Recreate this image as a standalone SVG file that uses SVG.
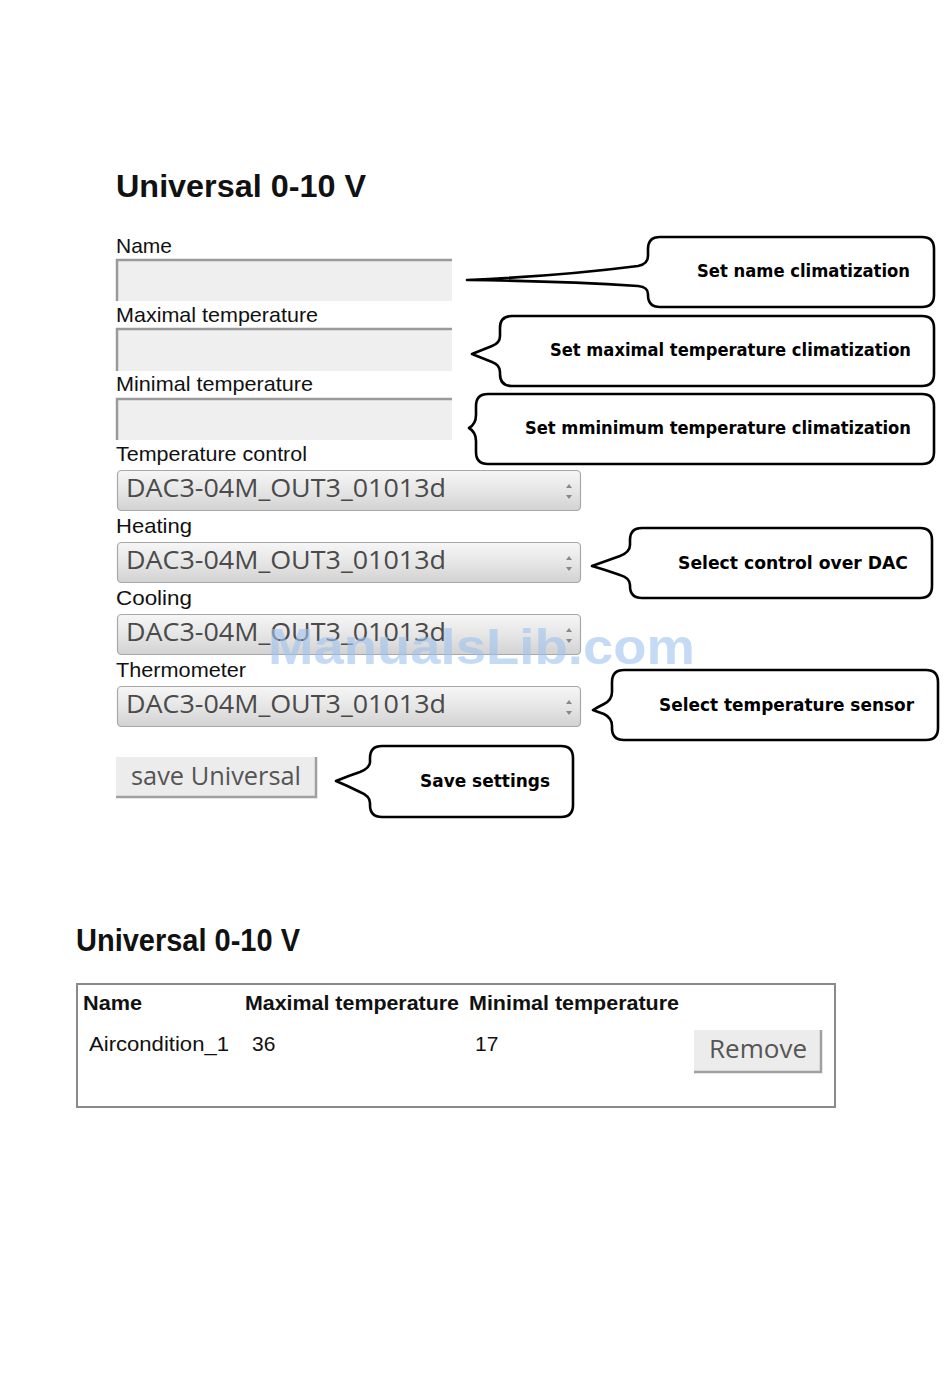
<svg xmlns="http://www.w3.org/2000/svg" width="950" height="1398" viewBox="0 0 950 1398">
<defs>
<linearGradient id="selg" x1="0" y1="0" x2="0" y2="1">
<stop offset="0" stop-color="#f6f6f6"/>
<stop offset="0.5" stop-color="#e6e6e6"/>
<stop offset="1" stop-color="#d2d2d2"/>
</linearGradient>
<style>
.lbl{font-family:"Liberation Sans",Arial,sans-serif;font-size:21px;fill:#111}
.h1{font-family:"Liberation Sans",Arial,sans-serif;font-size:32px;font-weight:bold;fill:#111}
.inp{fill:#efefef}
.inb{stroke:#9a9a9a;stroke-width:2.5;fill:none}
.sel{fill:url(#selg);stroke:#a8a8a8;stroke-width:1.2}
.selt{font-family:"Open Sans","DejaVu Sans",sans-serif;font-size:26px;fill:#4a4a4a}
.spin{fill:#888}
.btn{fill:#ececec}
.btnb{stroke:#a0a0a0;stroke-width:2.5;fill:none}
.btnt{font-family:"Open Sans","DejaVu Sans",sans-serif;font-size:26px;fill:#555}
.co{fill:#fff;stroke:#000;stroke-width:2.6;stroke-linejoin:round}
.cot{font-family:"DejaVu Sans",Verdana,sans-serif;font-size:17px;font-weight:bold;fill:#000;text-anchor:end}
.th{font-family:"Liberation Sans",Arial,sans-serif;font-size:21px;font-weight:bold;fill:#111}
.td{font-family:"Liberation Sans",Arial,sans-serif;font-size:21px;fill:#111}
</style>
</defs>
<rect width="950" height="1398" fill="#fff"/>

<g id="form">
<text class="h1" x="116" y="197" textLength="250" lengthAdjust="spacingAndGlyphs">Universal 0-10 V</text>

<g id="field-name">
<text class="lbl" x="116" y="253">Name</text>
<rect class="inp" x="116" y="259" width="336" height="42"/>
<path class="inb" d="M117 301 V260 H452"/>
</g>
<g id="field-max">
<text class="lbl" x="116" y="322" textLength="202" lengthAdjust="spacingAndGlyphs">Maximal temperature</text>
<rect class="inp" x="116" y="328" width="336" height="43"/>
<path class="inb" d="M117 371 V329 H452"/>
</g>
<g id="field-min">
<text class="lbl" x="116" y="391" textLength="197" lengthAdjust="spacingAndGlyphs">Minimal temperature</text>
<rect class="inp" x="116" y="398" width="336" height="42"/>
<path class="inb" d="M117 440 V399 H452"/>
</g>

<g id="field-tempctrl">
<text class="lbl" x="116" y="461" textLength="191" lengthAdjust="spacingAndGlyphs">Temperature control</text>
<rect class="sel" x="117.5" y="470.5" width="463" height="40" rx="4"/>
<text class="selt" x="126" y="497" textLength="320" lengthAdjust="spacingAndGlyphs">DAC3-04M_OUT3_01013d</text>
<path class="spin" d="M566 488 L569 484 L572 488 Z M566 495 L572 495 L569 499 Z"/>
</g>
<g id="field-heating">
<text class="lbl" x="116" y="533" textLength="76" lengthAdjust="spacingAndGlyphs">Heating</text>
<rect class="sel" x="117.5" y="542.5" width="463" height="40" rx="4"/>
<text class="selt" x="126" y="569" textLength="320" lengthAdjust="spacingAndGlyphs">DAC3-04M_OUT3_01013d</text>
<path class="spin" d="M566 560 L569 556 L572 560 Z M566 567 L572 567 L569 571 Z"/>
</g>
<g id="field-cooling">
<text class="lbl" x="116" y="605" textLength="76" lengthAdjust="spacingAndGlyphs">Cooling</text>
<rect class="sel" x="117.5" y="614.5" width="463" height="40" rx="4"/>
<text class="selt" x="126" y="641" textLength="320" lengthAdjust="spacingAndGlyphs">DAC3-04M_OUT3_01013d</text>
<path class="spin" d="M566 632 L569 628 L572 632 Z M566 639 L572 639 L569 643 Z"/>
</g>
<g id="field-thermo">
<text class="lbl" x="116" y="677" textLength="130" lengthAdjust="spacingAndGlyphs">Thermometer</text>
<rect class="sel" x="117.5" y="686.5" width="463" height="40" rx="4"/>
<text class="selt" x="126" y="713" textLength="320" lengthAdjust="spacingAndGlyphs">DAC3-04M_OUT3_01013d</text>
<path class="spin" d="M566 704 L569 700 L572 704 Z M566 711 L572 711 L569 715 Z"/>
</g>

<g id="btn-save">
<rect class="btn" x="116" y="757" width="201" height="41"/>
<path class="btnb" d="M116 797 H316 V757"/>
<text class="btnt" x="131" y="785" textLength="170" lengthAdjust="spacingAndGlyphs">save Universal</text>
</g>
</g>

<text x="268" y="664" font-family="Liberation Sans,Arial,sans-serif" font-size="50" font-weight="bold" fill="#9fc3ee" fill-opacity="0.6" textLength="427" lengthAdjust="spacingAndGlyphs">ManualsLib.com</text>

<g id="callouts">
<g id="callout-name">
<path class="co" d="M660 237 H922 Q934 237 934 249 V295 Q934 307 922 307 H660 Q648 307 648 295 V294 Q648 287 638 286 Q560 281 467 280 Q560 276 638 266 Q648 264 648 256 V249 Q648 237 660 237 Z"/>
<text class="cot" x="910" y="277" textLength="213" lengthAdjust="spacingAndGlyphs">Set name climatization</text>
</g>
<g id="callout-max">
<path class="co" d="M512 316 H922 Q934 316 934 328 V374 Q934 386 922 386 H512 Q500 386 500 374 V372 Q500 365 492 362 Q482 358 472 354 Q482 350 492 346 Q500 343 500 336 V328 Q500 316 512 316 Z"/>
<text class="cot" x="911" y="356" textLength="361" lengthAdjust="spacingAndGlyphs">Set maximal temperature climatization</text>
</g>
<g id="callout-min">
<path class="co" d="M488 394 H922 Q934 394 934 406 V452 Q934 464 922 464 H488 Q476 464 476 452 V441 Q476 432 469 428 Q476 424 476 415 V406 Q476 394 488 394 Z"/>
<text class="cot" x="911" y="434" textLength="386" lengthAdjust="spacingAndGlyphs">Set mminimum temperature climatization</text>
</g>
<g id="callout-dac">
<path class="co" d="M642 528 H920 Q932 528 932 540 V586 Q932 598 920 598 H642 Q630 598 630 586 V585 Q630 578 620 575 Q606 570 592 566 Q606 561 620 556 Q630 552 630 545 V540 Q630 528 642 528 Z"/>
<text class="cot" x="908" y="569" textLength="230" lengthAdjust="spacingAndGlyphs">Select control over DAC</text>
</g>
<g id="callout-sensor">
<path class="co" d="M624 670 H926 Q938 670 938 682 V728 Q938 740 926 740 H624 Q612 740 612 728 V726 Q612 718 604 714 Q598 712 593 710 Q598 707 604 704 Q612 700 612 692 V682 Q612 670 624 670 Z"/>
<text class="cot" x="914" y="711" textLength="255" lengthAdjust="spacingAndGlyphs">Select temperature sensor</text>
</g>
<g id="callout-save">
<path class="co" d="M382 746 H561 Q573 746 573 758 V805 Q573 817 561 817 H382 Q370 817 370 805 V803 Q370 796 360 792 Q348 786 336 781 Q348 776 360 772 Q370 768 370 762 V758 Q370 746 382 746 Z"/>
<text class="cot" x="550" y="787" textLength="130" lengthAdjust="spacingAndGlyphs">Save settings</text>
</g>
</g>

<g id="list">
<text class="h1" x="76" y="951" font-size="28" textLength="224" lengthAdjust="spacingAndGlyphs">Universal 0-10 V</text>
<g id="table">
<rect x="77" y="984" width="758" height="123" fill="#fff" stroke="#8a8a8a" stroke-width="2"/>
<text class="th" x="83" y="1010" textLength="59" lengthAdjust="spacingAndGlyphs">Name</text>
<text class="th" x="245" y="1010" textLength="214" lengthAdjust="spacingAndGlyphs">Maximal temperature</text>
<text class="th" x="469" y="1010" textLength="210" lengthAdjust="spacingAndGlyphs">Minimal temperature</text>
<text class="td" x="89" y="1051" textLength="140" lengthAdjust="spacingAndGlyphs">Aircondition_1</text>
<text class="td" x="252" y="1051">36</text>
<text class="td" x="475" y="1051">17</text>
<g id="btn-remove">
<rect class="btn" x="694" y="1030" width="128" height="43"/>
<path class="btnb" d="M694 1072 H821 V1030"/>
<text class="btnt" x="709" y="1058" textLength="98" lengthAdjust="spacingAndGlyphs">Remove</text>
</g>
</g>
</g>
</svg>
